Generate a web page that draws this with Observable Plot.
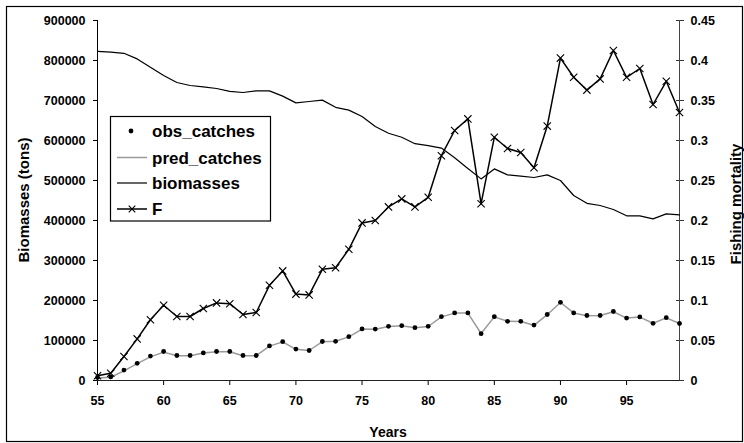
<!DOCTYPE html>
<html>
<head>
<meta charset="utf-8">
<script src="https://cdn.jsdelivr.net/npm/d3@7"></script>
<script src="https://cdn.jsdelivr.net/npm/@observablehq/plot@0.6"></script>
<style>
  html, body { margin: 0; padding: 0; background: #fff; }
  #chart { position: relative; width: 744px; height: 443px; }
</style>
</head>
<body>
<div id="chart"></div>
<script>
// Stock assessment series, one value per year (19xx)
const years = [55, 56, 57, 58, 59, 60, 61, 62, 63, 64, 65, 66, 67, 68, 69, 70, 71, 72, 73, 74, 75, 76,
  77, 78, 79, 80, 81, 82, 83, 84, 85, 86, 87, 88, 89, 90, 91, 92, 93, 94, 95, 96, 97, 98, 99];

// Observed catches (tons)
const obsCatches = [7500, 9000, 26000, 43000, 61000, 72500, 62500, 62500, 69000, 72500, 72500, 62500,
  62500, 86500, 97000, 78500, 75000, 97500, 98000, 109500, 129000, 128500, 135500, 137000, 132000,
  135500, 159500, 169000, 169000, 117000, 159500, 148000, 148000, 138500, 165000, 195500, 169000,
  162500, 162500, 172500, 156000, 159000, 143000, 157000, 142500];

// Predicted catches (tons)
const predCatches = [6000, 8000, 24000, 42000, 59000, 71000, 62000, 62000, 68500, 72000, 72000, 62000,
  62000, 86000, 96500, 78000, 75000, 97000, 98000, 109000, 128500, 128000, 135000, 137000, 132000,
  135000, 159000, 168500, 168500, 117500, 159000, 148000, 147500, 138000, 164500, 195000, 169000,
  162000, 162500, 172000, 156000, 158500, 143000, 156500, 142500];

// Stock biomass (tons)
const biomasses = [823000, 821000, 818000, 804000, 783000, 762500, 745000, 737500, 734000, 730000,
  723000, 720000, 724000, 724000, 711000, 694000, 697500, 701000, 683000, 676000, 660000, 635000,
  618000, 608000, 592000, 587000, 581000, 557000, 530000, 504000, 529000, 514000, 511000, 507500,
  514000, 500000, 462500, 443000, 437500, 427500, 411700, 411700, 404000, 416700, 414000];

// Fishing mortality (right axis)
const fishingMortality = [0.006, 0.009, 0.030, 0.052, 0.076, 0.094, 0.080, 0.080, 0.090, 0.097, 0.096,
  0.0825, 0.085, 0.119, 0.137, 0.108, 0.107, 0.139, 0.141, 0.164, 0.197, 0.200, 0.217, 0.227, 0.217,
  0.229, 0.281, 0.3125, 0.327, 0.221, 0.304, 0.290, 0.285, 0.266, 0.318, 0.403, 0.379, 0.363, 0.377,
  0.4125, 0.379, 0.390, 0.345, 0.374, 0.335];

// Axis ticks
const xTicks = [55, 60, 65, 70, 75, 80, 85, 90, 95];
const leftTicks = [0, 100000, 200000, 300000, 400000, 500000, 600000, 700000, 800000, 900000];
const rightTicks = [0, 0.05, 0.1, 0.15, 0.2, 0.25, 0.3, 0.35, 0.4, 0.45];

const seriesNames = ["obs_catches", "pred_catches", "biomasses", "F"];

// F shares the tons scale: 0.45 on the right sits level with 900000 on the left
const F_TO_TONS = 2000000;

const rows = years.map((year, i) => ({
  year,
  obs: obsCatches[i],
  pred: predCatches[i],
  bio: biomasses[i],
  F: fishingMortality[i] * F_TO_TONS
}));

const font = "'Liberation Sans', Arial, Helvetica, sans-serif";

const chart = Plot.plot({
  width: 744,
  height: 443,
  marginLeft: 97,
  marginRight: 65,
  marginTop: 20,
  marginBottom: 63,
  style: { fontFamily: font, fontSize: "12.5px", fontWeight: "bold", color: "#000", background: "#fff" },
  x: { domain: [55, 99] },
  y: { domain: [0, 900000] },
  marks: [
    Plot.axisX(xTicks, { tickSize: 5, tickPadding: 11, label: null, tickFormat: d => String(d) }),
    Plot.axisY(leftTicks, { anchor: "left", tickSize: 4, tickPadding: 8, label: null, tickFormat: d => String(d) }),
    Plot.axisY(rightTicks.map(f => f * F_TO_TONS), {
      anchor: "right", tickSize: 8, dx: -4, label: null, tickFormat: () => "", stroke: "#333"
    }),
    Plot.axisY(rightTicks.map(f => f * F_TO_TONS), {
      anchor: "right", tickSize: 0, tickPadding: 11, label: null,
      tickFormat: d => String(+(d / F_TO_TONS).toFixed(2))
    }),
    Plot.ruleY([0], { stroke: "#222" }),
    Plot.ruleX([55], { stroke: "#000" }),
    Plot.ruleX([99], { stroke: "#444" }),
    Plot.line(rows, { x: "year", y: "bio", stroke: "#000", strokeWidth: 1.2 }),
    Plot.line(rows, { x: "year", y: "pred", stroke: "#9a9a9a", strokeWidth: 1.5 }),
    Plot.dot(rows, { x: "year", y: "obs", r: 2.4, fill: "#000", stroke: "none" }),
    Plot.line(rows, { x: "year", y: "F", stroke: "#000", strokeWidth: 1.5 }),
    Plot.dot(rows, { x: "year", y: "F", symbol: "times", r: 3.4, stroke: "#000", strokeWidth: 1.1 })
  ]
});

document.getElementById("chart").appendChild(chart);

const svg = d3.select(chart);

// Outer chart border
svg.append("rect")
  .attr("x", 6.5).attr("y", 6.5).attr("width", 736).attr("height", 435)
  .attr("fill", "none").attr("stroke", "#000").attr("stroke-width", 1.2);

// Axis titles
svg.append("text")
  .attr("transform", "translate(29,200) rotate(-90)")
  .attr("text-anchor", "middle")
  .attr("font-size", 15).attr("font-weight", "bold").attr("font-family", font)
  .text("Biomasses (tons)");

svg.append("text")
  .attr("transform", "translate(741,204) rotate(-90)")
  .attr("text-anchor", "middle")
  .attr("font-size", 15).attr("font-weight", "bold").attr("font-family", font)
  .text("Fishing mortality");

svg.append("text")
  .attr("x", 388).attr("y", 437)
  .attr("text-anchor", "middle")
  .attr("font-size", 14).attr("font-weight", "bold").attr("font-family", font)
  .text("Years");

// Legend
const legend = svg.append("g")
  .attr("font-family", font).attr("font-weight", "bold").attr("font-size", 17)
  .attr("text-anchor", "start");
legend.append("rect")
  .attr("x", 110.5).attr("y", 116.5).attr("width", 160).attr("height", 104.5)
  .attr("fill", "#fff").attr("stroke", "#000").attr("stroke-width", 1.2);

const rowY = [131, 157.5, 183, 209];
seriesNames.forEach((name, i) => {
  const cy = rowY[i];
  if (name === "obs_catches") {
    legend.append("circle").attr("cx", 131).attr("cy", cy).attr("r", 2.4).attr("fill", "#000");
  } else {
    legend.append("line")
      .attr("x1", 117).attr("x2", 147).attr("y1", cy).attr("y2", cy)
      .attr("stroke", name === "pred_catches" ? "#9a9a9a" : "#000")
      .attr("stroke-width", name === "biomasses" ? 1.2 : 1.5);
    if (name === "F") {
      legend.append("path")
        .attr("d", d3.symbol(d3.symbolTimes, 30)())
        .attr("transform", `translate(132,${cy})`)
        .attr("stroke", "#000").attr("stroke-width", 1.1).attr("fill", "none");
    }
  }
  legend.append("text")
    .attr("x", 152).attr("y", cy + 6)
    .attr("text-anchor", "start")
    .text(name);
});
</script>
</body>
</html>
